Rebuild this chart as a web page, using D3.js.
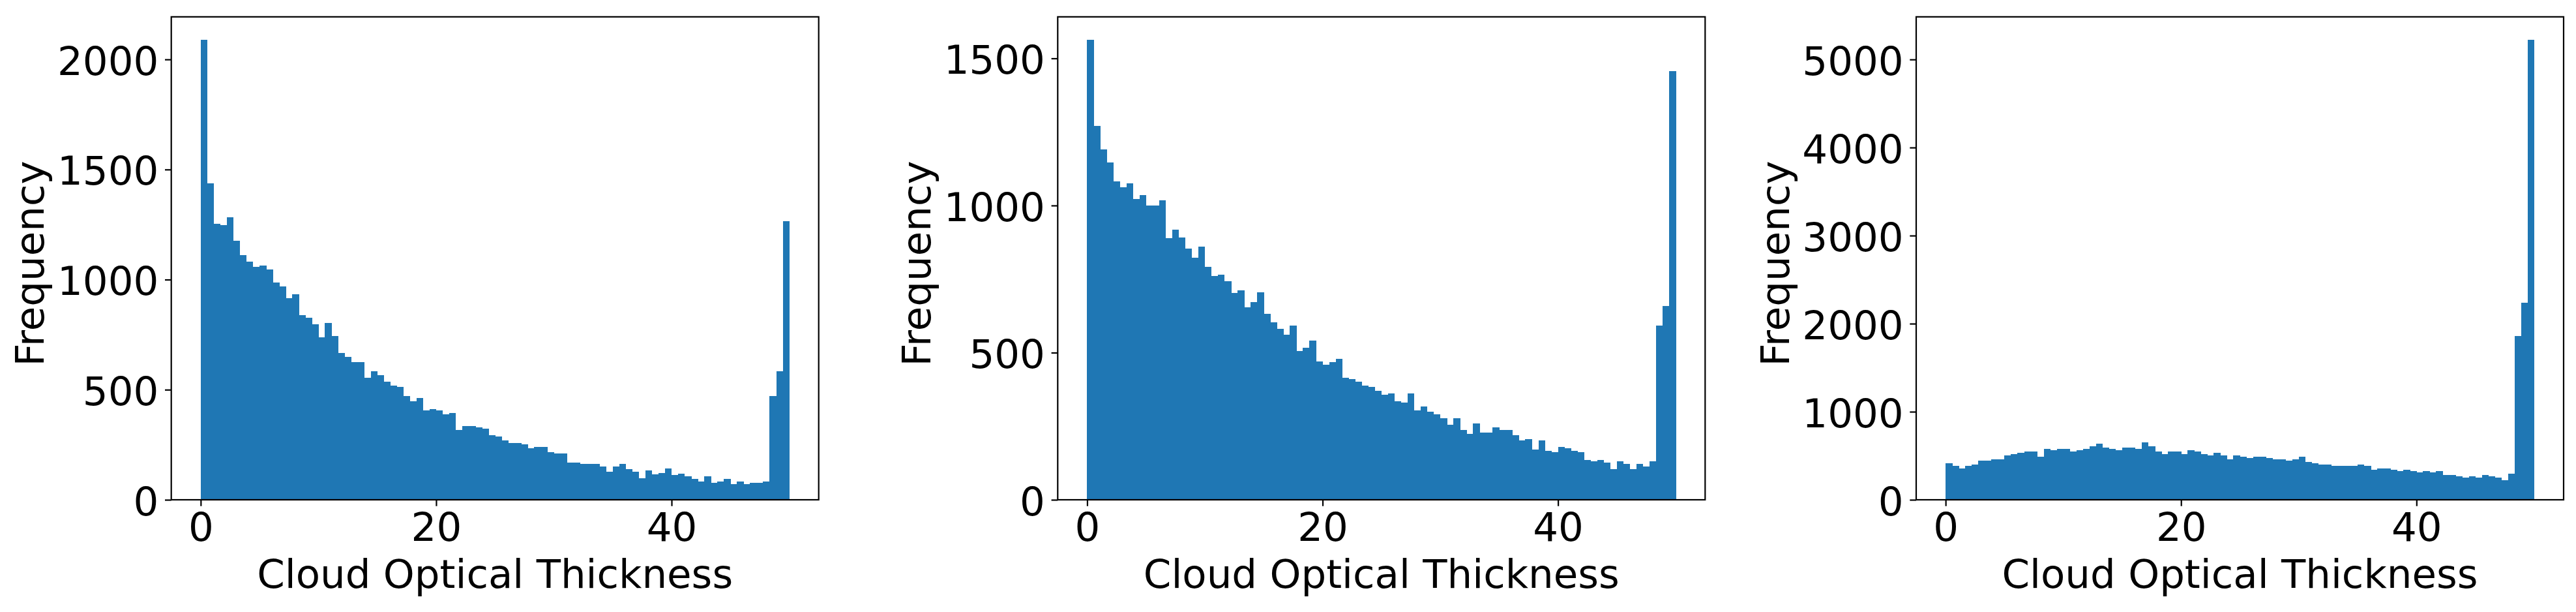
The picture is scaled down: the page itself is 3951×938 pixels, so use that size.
<!DOCTYPE html>
<html>
<head>
<meta charset="utf-8">
<script src="https://cdn.jsdelivr.net/npm/d3@7"></script>
<style>
  html, body { margin: 0; padding: 0; background: #ffffff; }
  svg { display: block; }
</style>
</head>
<body>
<svg id="chart" width="3951" height="938"></svg>
<script>
// ---------------- data ----------------
const xLabel = "Cloud Optical Thickness";
const yLabel = "Frequency";
const binRange = [0, 50];
const binCount = 90;
const xTickValues = [0, 20, 40];

const counts1 = [2089,1438,1254,1247,1283,1176,1112,1082,1059,1063,
                 1046,987,968,915,934,839,826,798,739,802,
                 745,667,648,626,626,555,584,567,537,519,
                 514,472,448,461,405,411,405,388,393,316,
                 334,334,328,322,293,287,269,257,257,251,
                 233,239,239,215,210,210,168,168,162,162,
                 162,150,127,150,162,138,127,97,132,115,
                 121,142,112,118,106,94,82,106,76,82,
                 94,70,82,70,76,76,82,472,584,1265];

const counts2 = [1563,1271,1191,1146,1081,1063,1075,1023,1035,1001,
                 1001,1017,889,919,892,854,823,861,791,761,
                 765,742,703,711,654,671,706,631,604,582,
                 560,591,506,516,542,471,460,467,480,414,
                 410,401,388,384,370,357,361,335,330,361,
                 304,317,299,290,277,255,277,237,224,259,
                 228,228,246,237,237,219,201,206,170,201,
                 166,161,179,175,166,161,135,130,135,126,
                 104,130,121,104,121,113,130,593,659,1456];

const counts3 = [417,385,355,385,402,446,446,461,461,505,
                 520,534,549,549,490,578,564,578,578,549,
                 564,578,608,637,593,578,564,593,593,578,
                 652,608,549,520,549,549,520,564,549,520,
                 505,534,505,461,505,490,475,490,490,475,
                 461,461,446,461,490,431,417,402,402,387,
                 387,387,387,402,387,343,358,358,343,328,
                 343,328,314,328,314,328,284,284,270,255,
                 270,255,284,270,255,225,299,1856,2241,5223];

const yTicks1 = [0, 500, 1000, 1500, 2000];
const yTicks2 = [0, 500, 1000, 1500];
const yTicks3 = [0, 1000, 2000, 3000, 4000, 5000];

// ---------------- layout ----------------
const panels = [
  { counts: counts1, yTicks: yTicks1, left: 262.7 },
  { counts: counts2, yTicks: yTicks2, left: 1622.3 },
  { counts: counts3, yTicks: yTicks3, left: 2939.0 }
];
const plotTop = 25.8, plotBottom = 766.0, plotWidth = 993;
const fontSize = 61;
const lw = 2.2;          // 0.8pt at 200 dpi
const tickLen = 9.7;     // 3.5pt
const tickPad = 9.7;
const barColor = "#1f77b4";
const fontFamily = "'DejaVu Sans', sans-serif";

const svg = d3.select("#chart");
svg.append("rect").attr("width", 3951).attr("height", 938).attr("fill", "#fff");

const binWidth = (binRange[1] - binRange[0]) / binCount;

panels.forEach(p => {
  const bins = p.counts.map((c, i) => ({
    x0: binRange[0] + i * binWidth,
    x1: binRange[0] + (i + 1) * binWidth,
    count: c
  }));
  const pad = 0.05 * (binRange[1] - binRange[0]);
  const x = d3.scaleLinear()
    .domain([binRange[0] - pad, binRange[1] + pad])
    .range([p.left, p.left + plotWidth]);
  const y = d3.scaleLinear()
    .domain([0, d3.max(p.counts) * 1.05])
    .range([plotBottom, plotTop]);

  const g = svg.append("g");

  // bars
  g.append("g")
    .selectAll("rect")
    .data(bins)
    .join("rect")
    .attr("x", d => x(d.x0))
    .attr("width", d => x(d.x1) - x(d.x0) + 0.4)
    .attr("y", d => y(d.count))
    .attr("height", d => y(0) - y(d.count))
    .attr("fill", barColor)
    .attr("shape-rendering", "crispEdges");

  // x axis
  const xAxis = d3.axisBottom(x)
    .tickValues(xTickValues)
    .tickFormat(d3.format("d"))
    .tickSizeInner(tickLen)
    .tickSizeOuter(0)
    .tickPadding(tickPad);
  const gx = g.append("g")
    .attr("transform", `translate(0,${plotBottom})`)
    .call(xAxis);
  gx.select(".domain").remove();
  gx.selectAll(".tick line").attr("stroke", "#000").attr("stroke-width", lw);
  gx.selectAll(".tick text")
    .attr("fill", "#000")
    .style("font-family", fontFamily)
    .style("font-size", fontSize + "px");

  // y axis
  const yAxis = d3.axisLeft(y)
    .tickValues(p.yTicks)
    .tickFormat(d3.format("d"))
    .tickSizeInner(tickLen)
    .tickSizeOuter(0)
    .tickPadding(tickPad);
  const gy = g.append("g")
    .attr("transform", `translate(${p.left},0)`)
    .call(yAxis);
  gy.select(".domain").remove();
  gy.selectAll(".tick line").attr("stroke", "#000").attr("stroke-width", lw);
  gy.selectAll(".tick text")
    .attr("fill", "#000")
    .attr("dy", "0.38em")
    .style("font-family", fontFamily)
    .style("font-size", fontSize + "px");

  // frame
  g.append("rect")
    .attr("x", p.left)
    .attr("y", plotTop)
    .attr("width", plotWidth)
    .attr("height", plotBottom - plotTop)
    .attr("fill", "none")
    .attr("stroke", "#000")
    .attr("stroke-width", lw);

  // x label
  g.append("text")
    .attr("x", p.left + plotWidth / 2)
    .attr("y", 901)
    .attr("text-anchor", "middle")
    .attr("fill", "#000")
    .style("font-family", fontFamily)
    .style("font-size", fontSize + "px")
    .text(xLabel);

  // y label
  const ylx = p.left - 195.5, yly = 404;
  g.append("text")
    .attr("transform", `translate(${ylx},${yly}) rotate(-90)`)
    .attr("text-anchor", "middle")
    .attr("fill", "#000")
    .style("font-family", fontFamily)
    .style("font-size", fontSize + "px")
    .text(yLabel);
});
</script>
</body>
</html>
